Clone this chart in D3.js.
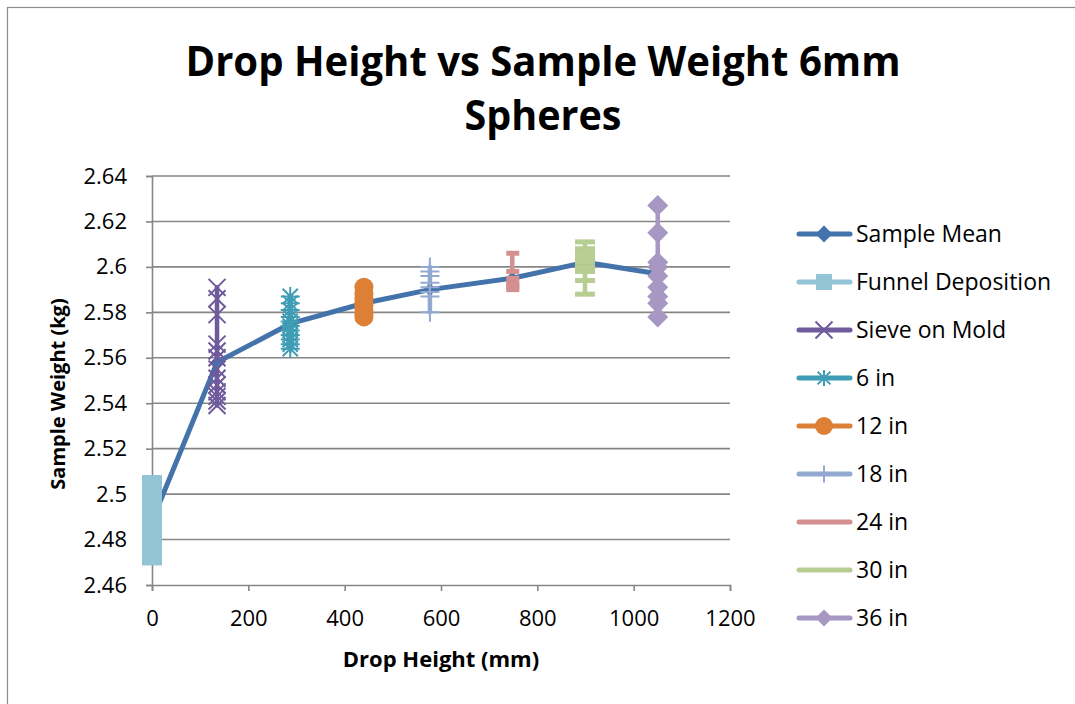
<!DOCTYPE html>
<html>
<head>
<meta charset="utf-8">
<script src="https://cdn.jsdelivr.net/npm/d3@7"></script>
<style>
    body { margin: 0; background: #fff; }
    svg { display: block; font-family: "Open Sans", sans-serif; }
</style>
</head>
<body>
<div class="chart"></div>
<script>
// values
const seriesNames = ["Sample Mean", "Funnel Deposition", "Sieve on Mold", "6 in", "12 in", "18 in", "24 in", "30 in", "36 in"];
const dropHeights = [0, 135, 287, 440, 577, 748, 899, 1050];
const meanWeights = [2.488, 2.558, 2.575, 2.584, 2.590, 2.595, 2.602, 2.597];
const funnelWeights = [2.504, 2.499, 2.495, 2.491, 2.487, 2.484, 2.480, 2.477, 2.473];
const sieveWeights = [2.591, 2.586, 2.579, 2.566, 2.563, 2.560, 2.555, 2.551, 2.548, 2.545, 2.543, 2.541, 2.539];
const in6Weights = [2.587, 2.584, 2.581, 2.578, 2.576, 2.574, 2.572, 2.570, 2.568, 2.566, 2.564];
const in12Weights = [2.591, 2.588, 2.586, 2.584, 2.583, 2.581, 2.579, 2.578];
const in18Weights = [2.600, 2.598, 2.596, 2.593, 2.591, 2.589, 2.587, 2.580];
const in24Weights = [2.606, 2.598, 2.595, 2.593, 2.592, 2.591, 2.590];
const in30Weights = [2.611, 2.608, 2.606, 2.604, 2.602, 2.600, 2.598, 2.594, 2.588];
const in36Weights = [2.627, 2.615, 2.602, 2.600, 2.596, 2.591, 2.587, 2.584, 2.578];
const xTickValues = [0, 200, 400, 600, 800, 1000, 1200];
const yTickValues = [2.46, 2.48, 2.5, 2.52, 2.54, 2.56, 2.58, 2.6, 2.62, 2.64];

const colors = ["#4472aa", "#93c4d6", "#6f5a9c", "#3f9db5", "#dd8036", "#93a9d1", "#d49090", "#b7ce92", "#a698c2"];
const markers = ["diamond", "square", "x", "star", "circle", "plus", "dot", "dash", "diamond"];
const plotSize = [13, 20, 17, 19, 19, 19, 0, 0, 21];
const legendSize = [17, 16, 17, 16, 18, 17, 0, 0, 17];

const w = 1075, h = 704;
const plotL = 152, plotR = 730, plotT = 176, plotB = 585;

const groupWeights = [funnelWeights, sieveWeights, in6Weights, in12Weights, in18Weights, in24Weights, in30Weights, in36Weights];
const series = [{ name: seriesNames[0], points: dropHeights.map((x, i) => [x, meanWeights[i]]) }];
groupWeights.forEach((vals, i) => {
    series.push({ name: seriesNames[i + 1], points: vals.map(v => [dropHeights[i], v]) });
});

const xScale = d3.scaleLinear().domain([0, 1200]).range([plotL, plotR]);
const yScale = d3.scaleLinear().domain([2.46, 2.64]).range([plotB, plotT]);

const svg = d3.select(".chart").append("svg")
    .attr("width", w)
    .attr("height", h);

// chart area border
svg.append("rect")
    .attr("x", 7.5).attr("y", 7.5)
    .attr("width", w + 20).attr("height", h + 20)
    .attr("fill", "#fff")
    .attr("stroke", "#8c8c8c")
    .attr("stroke-width", 1.2);

// title (squeezed a bit, the original font is a narrow one)
const title = svg.append("text")
    .attr("text-anchor", "middle")
    .attr("font-weight", "bold")
    .attr("font-size", 42)
    .attr("fill", "#000");
title.append("tspan").attr("x", 543).attr("y", 76)
    .attr("textLength", 715).attr("lengthAdjust", "spacingAndGlyphs")
    .text("Drop Height vs Sample Weight 6mm");
title.append("tspan").attr("x", 543).attr("y", 130)
    .attr("textLength", 157).attr("lengthAdjust", "spacingAndGlyphs")
    .text("Spheres");

// gridlines
svg.append("g").selectAll("line")
    .data(yTickValues.slice(1))
    .enter()
    .append("line")
    .attr("x1", plotL).attr("x2", plotR)
    .attr("y1", d => yScale(d)).attr("y2", d => yScale(d))
    .attr("stroke", "#868686")
    .attr("stroke-width", 1.6);

const fmt = d => String(+d.toFixed(2));

const yAxis = d3.axisLeft(yScale).tickValues(yTickValues).tickFormat(fmt).tickSize(6).tickPadding(19);
const xAxis = d3.axisBottom(xScale).tickValues(xTickValues).tickFormat(d3.format("d")).tickSize(6).tickPadding(19);

const gy = svg.append("g")
    .attr("id", "y-axis")
    .attr("transform", "translate(" + plotL + ",0)")
    .call(yAxis);
const gx = svg.append("g")
    .attr("id", "x-axis")
    .attr("transform", "translate(0," + plotB + ")")
    .call(xAxis);
[gx, gy].forEach(g => {
    g.select(".domain").attr("stroke", "#868686").attr("stroke-width", 1.6);
    g.selectAll(".tick line").attr("stroke", "#868686").attr("stroke-width", 1.6);
    g.selectAll(".tick text").attr("font-size", 22).attr("fill", "#000").attr("font-family", "Open Sans, sans-serif");
});

// axis titles
svg.append("text")
    .attr("x", 441).attr("y", 667)
    .attr("text-anchor", "middle")
    .attr("font-weight", "bold")
    .attr("font-size", 22)
    .text("Drop Height (mm)");
svg.append("text")
    .attr("transform", "translate(65,394) rotate(-90)")
    .attr("text-anchor", "middle")
    .attr("font-weight", "bold")
    .attr("font-size", 20)
    .text("Sample Weight (kg)");

function drawMarker(g, type, size, color) {
    const s = size / 2;
    if (type === "diamond") {
        g.append("path").attr("d", "M0," + (-s) + "L" + s + ",0L0," + s + "L" + (-s) + ",0Z").attr("fill", color);
    } else if (type === "square") {
        g.append("rect").attr("x", -s).attr("y", -s).attr("width", size).attr("height", size).attr("fill", color);
    } else if (type === "circle") {
        g.append("circle").attr("r", s).attr("fill", color);
    } else if (type === "x") {
        g.append("path").attr("d", "M" + (-s) + "," + (-s) + "L" + s + "," + s + "M" + s + "," + (-s) + "L" + (-s) + "," + s)
            .attr("stroke", color).attr("stroke-width", 2).attr("fill", "none");
    } else if (type === "star") {
        const d = s * 0.8;
        g.append("path").attr("d", "M" + (-d) + "," + (-d) + "L" + d + "," + d + "M" + d + "," + (-d) + "L" + (-d) + "," + d + "M0," + (-s) + "L0," + s + "M" + (-s) + ",0L" + s + ",0")
            .attr("stroke", color).attr("stroke-width", 2).attr("fill", "none");
    } else if (type === "plus") {
        g.append("path").attr("d", "M0," + (-s) + "L0," + s + "M" + (-s) + ",0L" + s + ",0")
            .attr("stroke", color).attr("stroke-width", 2).attr("fill", "none");
    } else if (type === "dot") {
        g.append("rect").attr("x", -6).attr("y", -2.5).attr("width", 13).attr("height", 5).attr("fill", color);
    } else if (type === "dash") {
        g.append("rect").attr("x", -10).attr("y", -2.5).attr("width", 20).attr("height", 5).attr("fill", color);
    }
}

const line = d3.line().x(d => xScale(d[0])).y(d => yScale(d[1]));

// lines first, then markers on top
svg.append("g").selectAll("path")
    .data(series)
    .enter()
    .append("path")
    .attr("d", d => line(d.points))
    .attr("fill", "none")
    .attr("stroke", (d, i) => colors[i])
    .attr("stroke-width", (d, i) => i === 0 ? 5 : 4.5)
    .attr("stroke-linejoin", "round")
    .attr("stroke-linecap", "round");

series.forEach((s, i) => {
    const g = svg.append("g");
    s.points.forEach(p => {
        const m = g.append("g").attr("transform", "translate(" + xScale(p[0]) + "," + yScale(p[1]) + ")");
        drawMarker(m, markers[i], plotSize[i], colors[i]);
    });
});

// legend
const legend = svg.append("g").selectAll("g")
    .data(seriesNames)
    .enter()
    .append("g")
    .attr("transform", (d, i) => "translate(0," + (234 + i * 48) + ")");
legend.append("line")
    .attr("x1", 799).attr("x2", 850)
    .attr("stroke", (d, i) => colors[i])
    .attr("stroke-width", 5)
    .attr("stroke-linecap", "round");
legend.each(function (d, i) {
    const m = d3.select(this).append("g").attr("transform", "translate(824,0)");
    if (markers[i] !== "dot" && markers[i] !== "dash") drawMarker(m, markers[i], legendSize[i], colors[i]);
});
legend.append("text")
    .attr("x", 856)
    .attr("dy", "0.35em")
    .attr("font-size", 23)
    .attr("fill", "#000")
    .text(d => d);
</script>
</body>
</html>
